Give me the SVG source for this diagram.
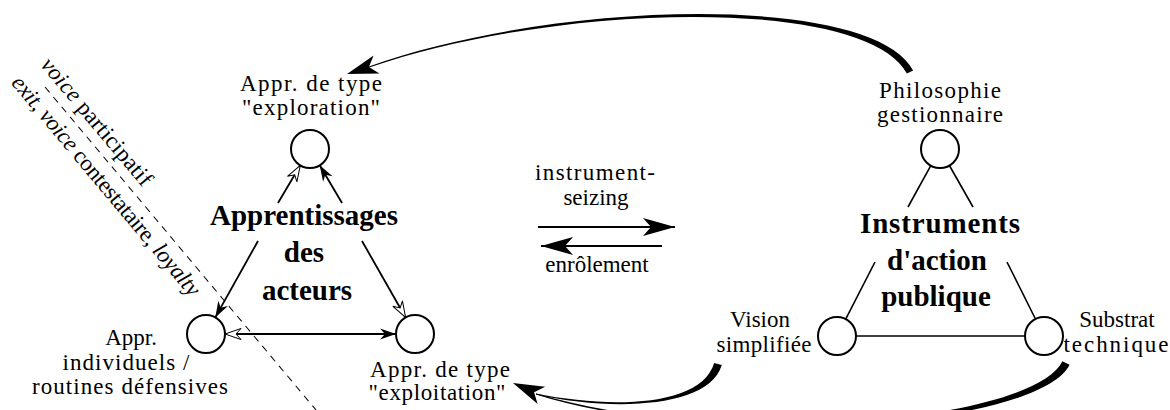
<svg xmlns="http://www.w3.org/2000/svg" width="1170" height="410" viewBox="0 0 1170 410" font-family="'Liberation Serif', 'DejaVu Serif', serif">
<defs>
<style>
text { font-family: 'Liberation Serif', 'DejaVu Serif', serif; fill: #000; }
.lbl { font-size: 23px; text-anchor: middle; }
.big { font-size: 29px; font-weight: bold; text-anchor: middle; }
.rot { font-size: 23px; }
circle { fill: #fff; stroke: #000; stroke-width: 2; }
.edge { stroke: #000; stroke-width: 1.8; fill: none; }
.thin { stroke: #000; stroke-width: 1.6; fill: none; }
.wide { stroke: #000; stroke-width: 2; fill: none; }
.taper { fill: #000; stroke: none; }
.dash { stroke: #000; stroke-width: 1; stroke-dasharray: 7 6; fill: none; }
</style>
<marker id="sf" viewBox="-18 -8 20 16" refX="0" refY="0" markerWidth="20" markerHeight="16" markerUnits="userSpaceOnUse" orient="auto">
  <path d="M0,0 L-16,-5.5 L-11,0 L-16,5.5 Z" fill="#000"/>
</marker>
<marker id="so" viewBox="-18 -8 20 16" refX="0" refY="0" markerWidth="20" markerHeight="16" markerUnits="userSpaceOnUse" orient="auto">
  <path d="M0,0 L-16,-5.5 L-11,0 L-16,5.5 Z" fill="#fff" stroke="#000" stroke-width="1"/>
</marker>
<marker id="sos" viewBox="-18 -8 20 16" refX="0" refY="0" markerWidth="20" markerHeight="16" markerUnits="userSpaceOnUse" orient="auto-start-reverse">
  <path d="M0,0 L-16,-5.5 L-11,0 L-16,5.5 Z" fill="#fff" stroke="#000" stroke-width="1"/>
</marker>
<marker id="bf" viewBox="-34 -10 36 20" refX="0" refY="0" markerWidth="36" markerHeight="20" markerUnits="userSpaceOnUse" orient="auto">
  <path d="M0,0 L-32,-9 L-24,0 L-32,9 Z" fill="#000"/>
</marker>
<path id="hd" d="M0,0 L-31,-9.5 L-23,0 L-31,9.5 Z" fill="#000"/>
</defs>

<rect width="1170" height="410" fill="#fff"/>

<g id="boundary" transform="translate(45,87) rotate(50)">
  <line class="dash" x1="0" y1="0" x2="425" y2="0"/>
  <text class="rot" x="-20" y="-10" textLength="160"><tspan font-style="italic">voice</tspan> participatif</text>
  <text class="rot" x="-25" y="24" textLength="280"><tspan font-style="italic">exit,</tspan> <tspan font-style="italic">voice</tspan> contestataire, <tspan font-style="italic">loyalty</tspan></text>
</g>

<g id="connectors">
  <line class="edge" x1="278" y1="203" x2="300.3" y2="165.3" marker-end="url(#so)"/>
  <line class="edge" x1="342" y1="203" x2="319.7" y2="165.3" marker-end="url(#sf)"/>
  <line class="edge" x1="258" y1="241" x2="215.3" y2="317.4" marker-end="url(#sf)"/>
  <line class="edge" x1="362" y1="241" x2="405.6" y2="317.5" marker-end="url(#so)"/>
  <line class="edge" x1="225" y1="334" x2="396" y2="334" marker-start="url(#sos)" marker-end="url(#sf)"/>

  <line class="thin" x1="930.8" y1="165.6" x2="908" y2="207"/>
  <line class="thin" x1="949.4" y1="165.5" x2="973" y2="207"/>
  <line class="thin" x1="875" y1="262" x2="845.7" y2="319.1"/>
  <line class="thin" x1="1007" y1="262" x2="1035.5" y2="319"/>
  <line class="thin" x1="856" y1="336" x2="1025" y2="336"/>

  <line class="wide" x1="538" y1="227" x2="675" y2="227" marker-end="url(#bf)"/>
  <line class="wide" x1="662" y1="246" x2="541" y2="246" marker-end="url(#bf)"/>

  <path class="taper" d="M913.1,70.4 C873.1,-6.6 559.5,-1.4 368.8,66.5 L369.2,67.5 C560.5,1.4 866.9,-3.4 906.9,73.6 Z"/>
  <use href="#hd" transform="translate(347,74) rotate(162.2)"/>

  <path class="taper" d="M714.2,362.9 C701.2,406.9 610.3,408.8 536.1,393.5 L535.9,394.5 C609.7,411.2 708.8,409.1 721.8,365.1 Z"/>
  <path class="taper" d="M1062.4,361.2 C1031.4,423.2 720.4,448.6 536.1,393.5 L535.9,394.5 C719.6,451.4 1038.6,426.8 1069.6,364.8 Z"/>
  <use href="#hd" transform="translate(513,383) rotate(203.6)"/>
</g>

<g id="apprentissages">
  <text class="big" x="304" y="225" textLength="188">Apprentissages</text>
  <text class="big" x="304" y="262">des</text>
  <text class="big" x="307" y="300">acteurs</text>
</g>

<g id="instruments">
  <text class="big" x="940" y="233" textLength="160">Instruments</text>
  <text class="big" x="937" y="270">d'action</text>
  <text class="big" x="936" y="306">publique</text>
</g>

<g id="exploration">
  <circle cx="310" cy="149" r="19"/>
  <text class="lbl" x="311" y="91" textLength="142">Appr. de type</text>
  <text class="lbl" x="311" y="115" textLength="138">"exploration"</text>
</g>

<g id="individuels">
  <circle cx="206" cy="334" r="19"/>
  <text class="lbl" x="131" y="345">Appr.</text>
  <text class="lbl" x="126" y="370" textLength="127">individuels /</text>
  <text class="lbl" x="130" y="394" textLength="196">routines défensives</text>
</g>

<g id="exploitation">
  <circle cx="415" cy="334" r="19"/>
  <text class="lbl" x="440" y="377" textLength="140">Appr. de type</text>
  <text class="lbl" x="437" y="400" textLength="137">"exploitation"</text>
</g>

<g id="philosophie">
  <circle cx="940" cy="149" r="19"/>
  <text class="lbl" x="940" y="98" textLength="122">Philosophie</text>
  <text class="lbl" x="940" y="122" textLength="126">gestionnaire</text>
</g>

<g id="vision">
  <circle cx="837" cy="336" r="19"/>
  <text class="lbl" x="760" y="327">Vision</text>
  <text class="lbl" x="764" y="352" textLength="95">simplifiée</text>
</g>

<g id="substrat">
  <circle cx="1044" cy="336" r="19"/>
  <text class="lbl" x="1117" y="327">Substrat</text>
  <text class="lbl" x="1116" y="352" textLength="105">technique</text>
</g>

<g id="labels">
  <text class="lbl" x="595" y="180" textLength="120">instrument-</text>
  <text class="lbl" x="596" y="205">seizing</text>
  <text class="lbl" x="597" y="272">enrôlement</text>
</g>
</svg>
